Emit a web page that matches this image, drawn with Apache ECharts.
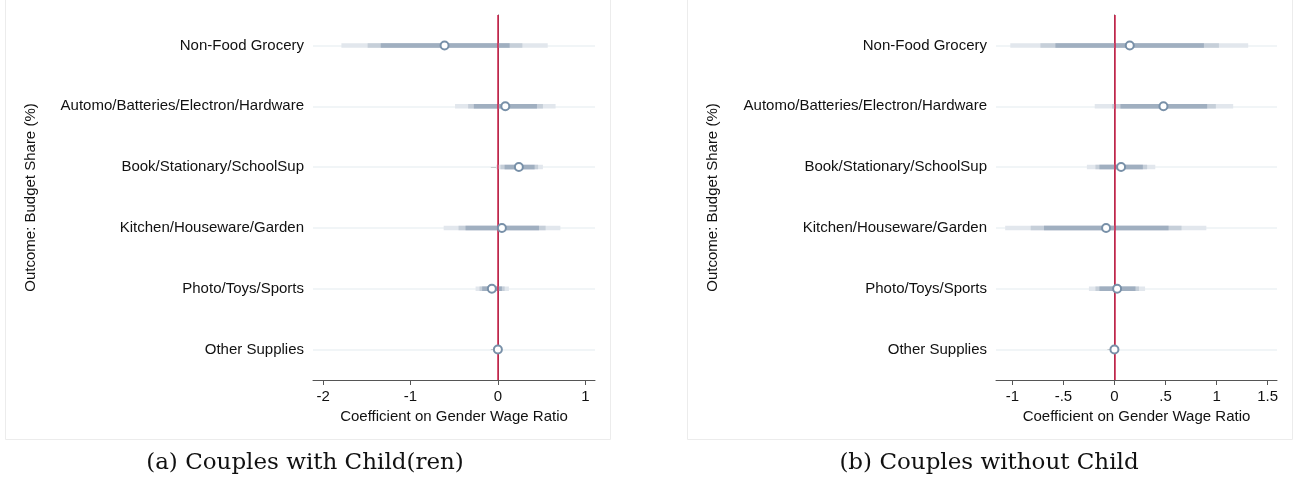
<!DOCTYPE html>
<html>
<head>
<meta charset="utf-8">
<script src="https://cdn.jsdelivr.net/npm/echarts@6/dist/echarts.min.js"></script>
<style>
  html, body { margin: 0; padding: 0; background: #fff; }
  #main { width: 1294px; height: 487px; }
</style>
</head>
<body>
<div id="main"></div>
<script>
// 结果类别 (从上到下)
var categories = ['Non-Food Grocery', 'Automo/Batteries/Electron/Hardware', 'Book/Stationary/SchoolSup',
  'Kitchen/Houseware/Garden', 'Photo/Toys/Sports', 'Other Supplies'];

// (a) 有孩子的夫妇
var childCoef = [-0.61, 0.085, 0.24, 0.046, -0.069, 0];
var childLo90 = [-1.34, -0.275, 0.077, -0.37, -0.18, null];
var childHi90 = [0.134, 0.447, 0.42, 0.47, 0.046, null];
var childLo95 = [-1.49, -0.34, 0.03, -0.45, -0.21, null];
var childHi95 = [0.28, 0.515, 0.46, 0.546, 0.077, null];
var childLo99 = [-1.79, -0.49, -0.02, -0.62, -0.255, null];
var childHi99 = [0.57, 0.66, 0.515, 0.715, 0.126, null];

// (b) 没有孩子的夫妇
var noChildCoef = [0.15, 0.48, 0.065, -0.082, 0.026, 0];
var noChildLo90 = [-0.578, 0.059, -0.147, -0.69, -0.147, null];
var noChildHi90 = [0.876, 0.908, 0.278, 0.53, 0.206, null];
var noChildLo95 = [-0.725, -0.023, -0.186, -0.82, -0.186, null];
var noChildHi95 = [1.023, 0.993, 0.32, 0.657, 0.24, null];
var noChildLo99 = [-1.02, -0.193, -0.27, -1.07, -0.25, null];
var noChildHi99 = [1.31, 1.163, 0.4, 0.9, 0.30, null];

var childTicks = [-2, -1, 0, 1];
var noChildTicks = [-1, -0.5, 0, 0.5, 1, 1.5];

var myChart = echarts.init(document.getElementById('main'));

var FONT = 'Liberation Sans';
var barColors = ['#e2e7ed', '#c6cfd9', '#a0afc0']; // 99%, 95%, 90%

function stataNum(v) {
  var s = String(v);
  return s.replace(/^(-?)0\./, '$1.');
}

function bandData(lo90, hi90, lo95, hi95, lo99, hi99) {
  var out = [];
  for (var i = 0; i < categories.length; i++) {
    if (lo90[i] == null) continue;
    out.push([lo99[i], hi99[i], lo95[i], hi95[i], lo90[i], hi90[i], i]);
  }
  return out;
}

function renderBands(params, api) {
  var cat = api.value(6);
  var h = 4.5;
  var children = [];
  for (var k = 0; k < 3; k++) {
    var p1 = api.coord([api.value(k * 2), cat]);
    var p2 = api.coord([api.value(k * 2 + 1), cat]);
    children.push({
      type: 'rect',
      shape: { x: p1[0], y: p1[1] - h / 2, width: p2[0] - p1[0], height: h },
      style: { fill: barColors[k], stroke: null }
    });
  }
  return { type: 'group', children: children };
}

function panelSeries(idx, coef, lo90, hi90, lo95, hi95, lo99, hi99) {
  var gridLines = categories.map(function (c, i) { return { yAxis: i }; });
  return [
    {
      type: 'scatter', xAxisIndex: idx, yAxisIndex: idx, data: [], z: 1,
      silent: true,
      markLine: {
        z: 1, symbol: 'none', silent: true, animation: false,
        label: { show: false },
        lineStyle: { color: '#edf2f4', width: 1.5, type: 'solid' },
        data: gridLines
      }
    },
    {
      type: 'custom', xAxisIndex: idx, yAxisIndex: idx, z: 2,
      renderItem: renderBands,
      encode: { x: [0, 1, 2, 3, 4, 5], y: 6 },
      data: bandData(lo90, hi90, lo95, hi95, lo99, hi99)
    },
    {
      type: 'scatter', xAxisIndex: idx, yAxisIndex: idx, data: [], z: 3,
      silent: true,
      markLine: {
        z: 3, symbol: 'none', silent: true, animation: false,
        label: { show: false },
        lineStyle: { color: '#d21f4a', width: 1.5, type: 'solid' },
        data: [{ xAxis: 0 }]
      }
    },
    {
      type: 'scatter', xAxisIndex: idx, yAxisIndex: idx, z: 4,
      symbol: 'circle', symbolSize: 8,
      itemStyle: { color: '#fff', borderColor: '#7890a8', borderWidth: 2, opacity: 1 },
      data: coef.map(function (v, i) { return [v, i]; })
    }
  ];
}

function xAxisCfg(idx, min, max, ticks) {
  return {
    type: 'value', gridIndex: idx, min: min, max: max,
    name: 'Coefficient on Gender Wage Ratio',
    nameLocation: 'middle', nameGap: 25,
    nameTextStyle: { fontFamily: FONT, fontSize: 15, color: '#111' },
    axisLine: { show: true, onZero: false, lineStyle: { color: '#555', width: 1 } },
    axisTick: { show: true, length: 5, customValues: ticks, lineStyle: { color: '#555' } },
    axisLabel: {
      customValues: ticks, margin: 9, fontFamily: FONT, fontSize: 15, color: '#111',
      formatter: stataNum
    },
    splitLine: { show: false }
  };
}

function yAxisCfg(idx, gap) {
  return {
    type: 'category', gridIndex: idx, data: categories, inverse: true,
    name: 'Outcome: Budget Share (%)',
    nameLocation: 'middle', nameGap: gap, nameRotate: 90,
    nameTextStyle: { fontFamily: FONT, fontSize: 15, color: '#111' },
    axisLine: { show: true, lineStyle: { color: '#555', width: 1 } },
    axisTick: { show: true, alignWithLabel: true, length: 7, lineStyle: { color: '#555' } },
    axisLabel: { margin: 9, fontFamily: FONT, fontSize: 15, color: '#111' },
    splitLine: { show: false }
  };
}

var option = {
  backgroundColor: '#fff',
  animation: false,
  graphic: [
    { type: 'rect', shape: { x: 5.5, y: -2, width: 605, height: 441.5 },
      style: { fill: 'none', stroke: '#ececec', lineWidth: 1 }, z: -1 },
    { type: 'rect', shape: { x: 687.5, y: -2, width: 605, height: 441.5 },
      style: { fill: 'none', stroke: '#ececec', lineWidth: 1 }, z: -1 },
    { type: 'text', x: 305, y: 463,
      style: { text: '(a) Couples with Child(ren)', font: '23px "DejaVu Serif"', fill: '#111',
        textAlign: 'center', textVerticalAlign: 'middle' } },
    { type: 'text', x: 989, y: 463,
      style: { text: '(b) Couples without Child', font: '23px "DejaVu Serif"', fill: '#111',
        textAlign: 'center', textVerticalAlign: 'middle' } }
  ],
  grid: [
    { left: 313, width: 282, top: 15, height: 365 },
    { left: 996, width: 281, top: 15, height: 365 }
  ],
  xAxis: [
    xAxisCfg(0, -2.115, 1.111, childTicks),
    xAxisCfg(1, -1.16, 1.592, noChildTicks)
  ],
  yAxis: [
    yAxisCfg(0, 275),
    yAxisCfg(1, 276)
  ],
  series: [].concat(
    panelSeries(0, childCoef, childLo90, childHi90, childLo95, childHi95, childLo99, childHi99),
    panelSeries(1, noChildCoef, noChildLo90, noChildHi90, noChildLo95, noChildHi95, noChildLo99, noChildHi99)
  )
};

myChart.setOption(option);
</script>
</body>
</html>
